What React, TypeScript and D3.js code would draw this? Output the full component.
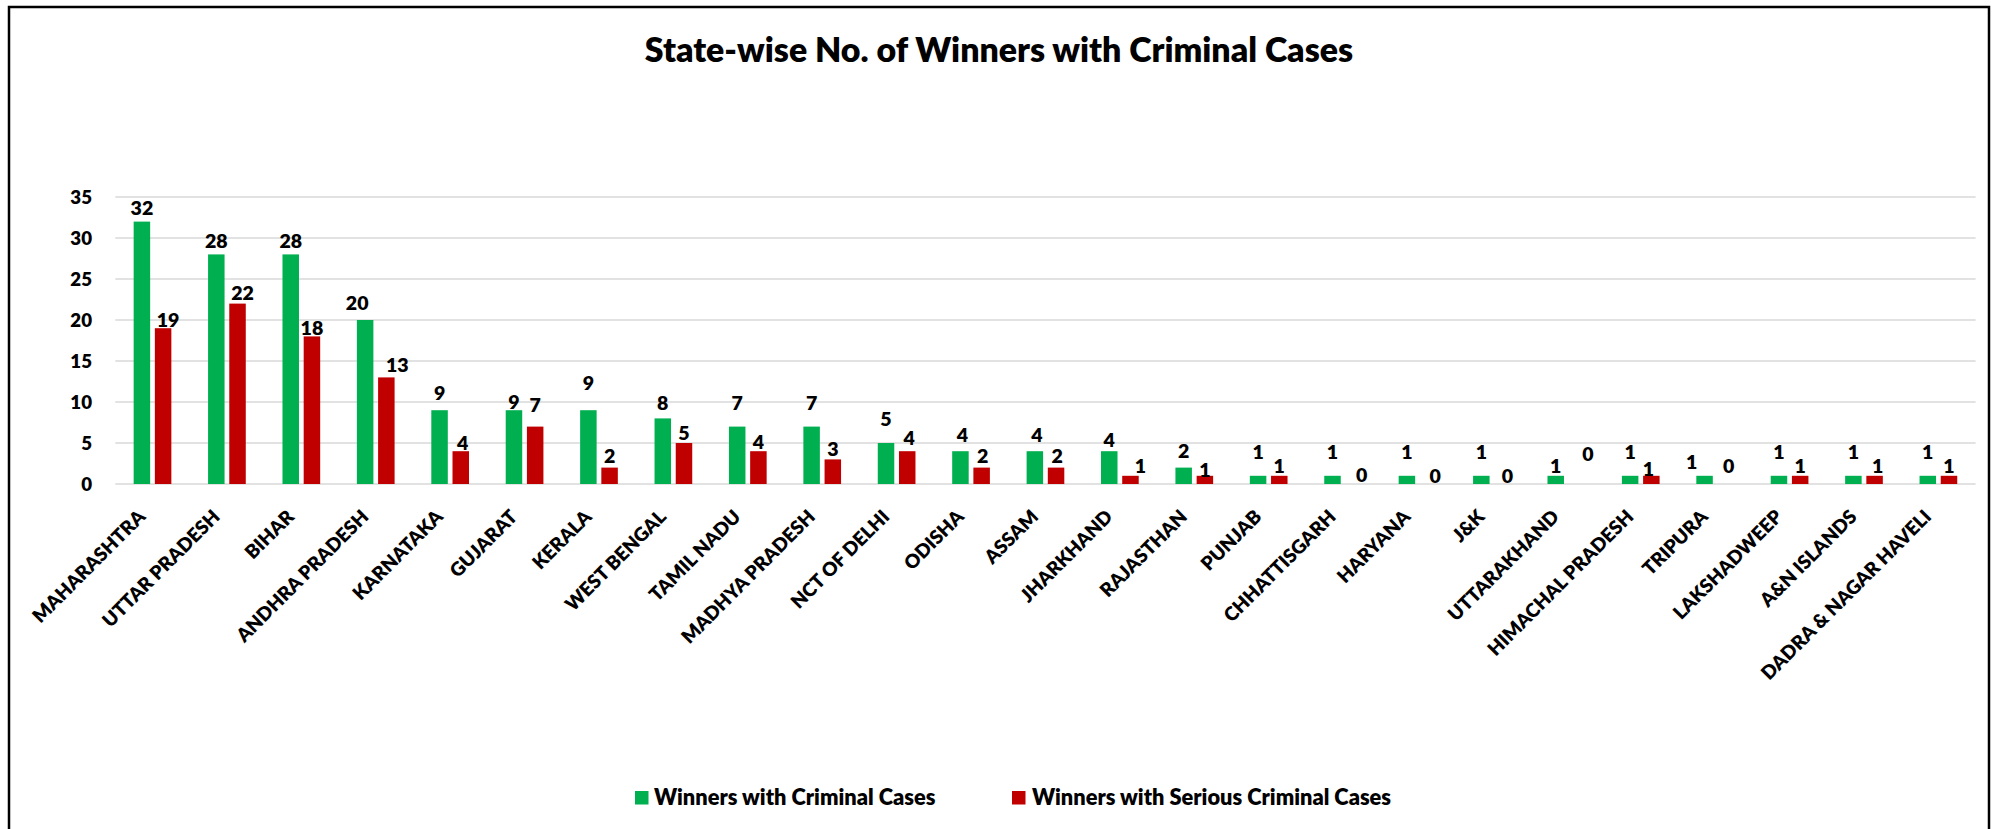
import React, { useMemo } from "react";
import * as d3 from "d3";

const states = [
  "MAHARASHTRA", "UTTAR PRADESH", "BIHAR", "ANDHRA PRADESH", "KARNATAKA", "GUJARAT",
  "KERALA", "WEST BENGAL", "TAMIL NADU", "MADHYA PRADESH", "NCT OF DELHI", "ODISHA",
  "ASSAM", "JHARKHAND", "RAJASTHAN", "PUNJAB", "CHHATTISGARH", "HARYANA", "J&K",
  "UTTARAKHAND", "HIMACHAL PRADESH", "TRIPURA", "LAKSHADWEEP", "A&N ISLANDS",
  "DADRA & NAGAR HAVELI",
];
const criminal = [32, 28, 28, 20, 9, 9, 9, 8, 7, 7, 5, 4, 4, 4, 2, 1, 1, 1, 1, 1, 1, 1, 1, 1, 1];
const serious = [19, 22, 18, 13, 4, 7, 2, 5, 4, 3, 4, 2, 2, 1, 1, 1, 0, 0, 0, 0, 1, 0, 1, 1, 1];
const yTicks = [0, 5, 10, 15, 20, 25, 30, 35];
const seriesNames = ["Winners with Criminal Cases", "Winners with Serious Criminal Cases"];
const title = "State-wise No. of Winners with Criminal Cases";

// label nudges (manually moved data labels in the original): gap above bar top, horizontal shift
const greenGap = [7, 6, 6, 10, 10, 1, 20, 8, 17, 17, 17, 9, 9, 4, 10, 17, 17, 17, 17, 3, 17, 7, 17, 17, 17];
const greenDx = [0, 0, 0, -8, 0, 0, 0, 0, 0, 0, 0, 2, 2, 0, 0, 0, 0, 0, 0, 0, 0, -13, 0, 0, 0];
const redGap = [1, 4, 1.5, 5.5, 1, 15, 4.5, 3, 2, 3, 6, 4.5, 4.5, 3, -1, 3, 2, 1, 1, 23, 0, 11, 3, 3, 3];
const redDx = [5, 5, 0, 11, 2, 0, 0, 0, 0, 0, 2, 1, 1, 10, 0, 0, 8, 7, 5, 11, -3, 3, 0, 3, 0];

const GREEN = "#00B050";
const RED = "#C00000";
const FAMILY = "Lato, 'Open Sans', sans-serif";
const WEIGHT = 800;

function fitSize(text: string, target: number): number {
  const ctx = document.createElement("canvas").getContext("2d");
  if (!ctx) return 20;
  ctx.font = `${WEIGHT} 100px Lato`;
  const w = ctx.measureText(text).width;
  return (100 * target) / w;
}

export default function App() {
  const W = 1994;
  const H = 829;
  const sizes = useMemo(
    () => ({
      title: fitSize(title, 710),
      legend: fitSize(seriesNames[0], 282),
      xLab: fitSize("MAHARASHTRA", 150),
      yLab: fitSize("35", 21.7),
      dLab: fitSize("32", 22.7),
    }),
    []
  );

  const x = d3.scaleBand<string>().domain(states).range([115.3, 1975.6]).padding(0);
  const y = d3.scaleLinear().domain([0, 35]).range([484, 197]);
  const barW = 16.5;
  const off = 10.6;

  return (
    <svg
      width={W}
      height={H}
      style={{ position: "absolute", left: 0, top: 0, background: "#fff" }}
      fontFamily={FAMILY}
      fontWeight={WEIGHT}
    >
      <rect x={0} y={0} width={W} height={H} fill="#fff" />
      <rect x={9} y={7} width={1980} height={900} fill="none" stroke="#000" strokeWidth={2.5} />
      <text x={999} y={62} textAnchor="middle" fontSize={sizes.title} fill="#000">
        {title}
      </text>
      {yTicks.map((t) => (
        <g key={t}>
          <line x1={115.3} x2={1975.6} y1={y(t)} y2={y(t)} stroke="#d9d9d9" strokeWidth={1.6} />
          <text x={92} y={y(t)} dy="0.36em" textAnchor="end" fontSize={sizes.yLab} fill="#000">
            {t}
          </text>
        </g>
      ))}
      {states.map((s, i) => {
        const c = (x(s) as number) + x.bandwidth() / 2;
        const gx = c - off;
        const rx = c + off;
        const gv = criminal[i];
        const rv = serious[i];
        return (
          <g key={s}>
            <rect x={gx - barW / 2} y={y(gv)} width={barW} height={y(0) - y(gv)} fill={GREEN} />
            <rect x={rx - barW / 2} y={y(rv)} width={barW} height={y(0) - y(rv)} fill={RED} />
            <text x={gx + greenDx[i]} y={y(gv) - greenGap[i]} textAnchor="middle" fontSize={sizes.dLab} fill="#000">
              {gv}
            </text>
            <text x={rx + redDx[i]} y={y(rv) - redGap[i]} textAnchor="middle" fontSize={sizes.dLab} fill="#000">
              {rv}
            </text>
            <text
              transform={`translate(${c - 6},518) rotate(-45)`}
              textAnchor="end"
              fontSize={sizes.xLab}
              fill="#000"
            >
              {s}
            </text>
          </g>
        );
      })}
      <g>
        <rect x={635} y={791} width={13.5} height={13.5} fill={GREEN} />
        <text x={654} y={805} fontSize={sizes.legend} fill="#000">
          {seriesNames[0]}
        </text>
        <rect x={1012} y={791} width={13.5} height={13.5} fill={RED} />
        <text x={1032} y={805} fontSize={sizes.legend} fill="#000">
          {seriesNames[1]}
        </text>
      </g>
    </svg>
  );
}
